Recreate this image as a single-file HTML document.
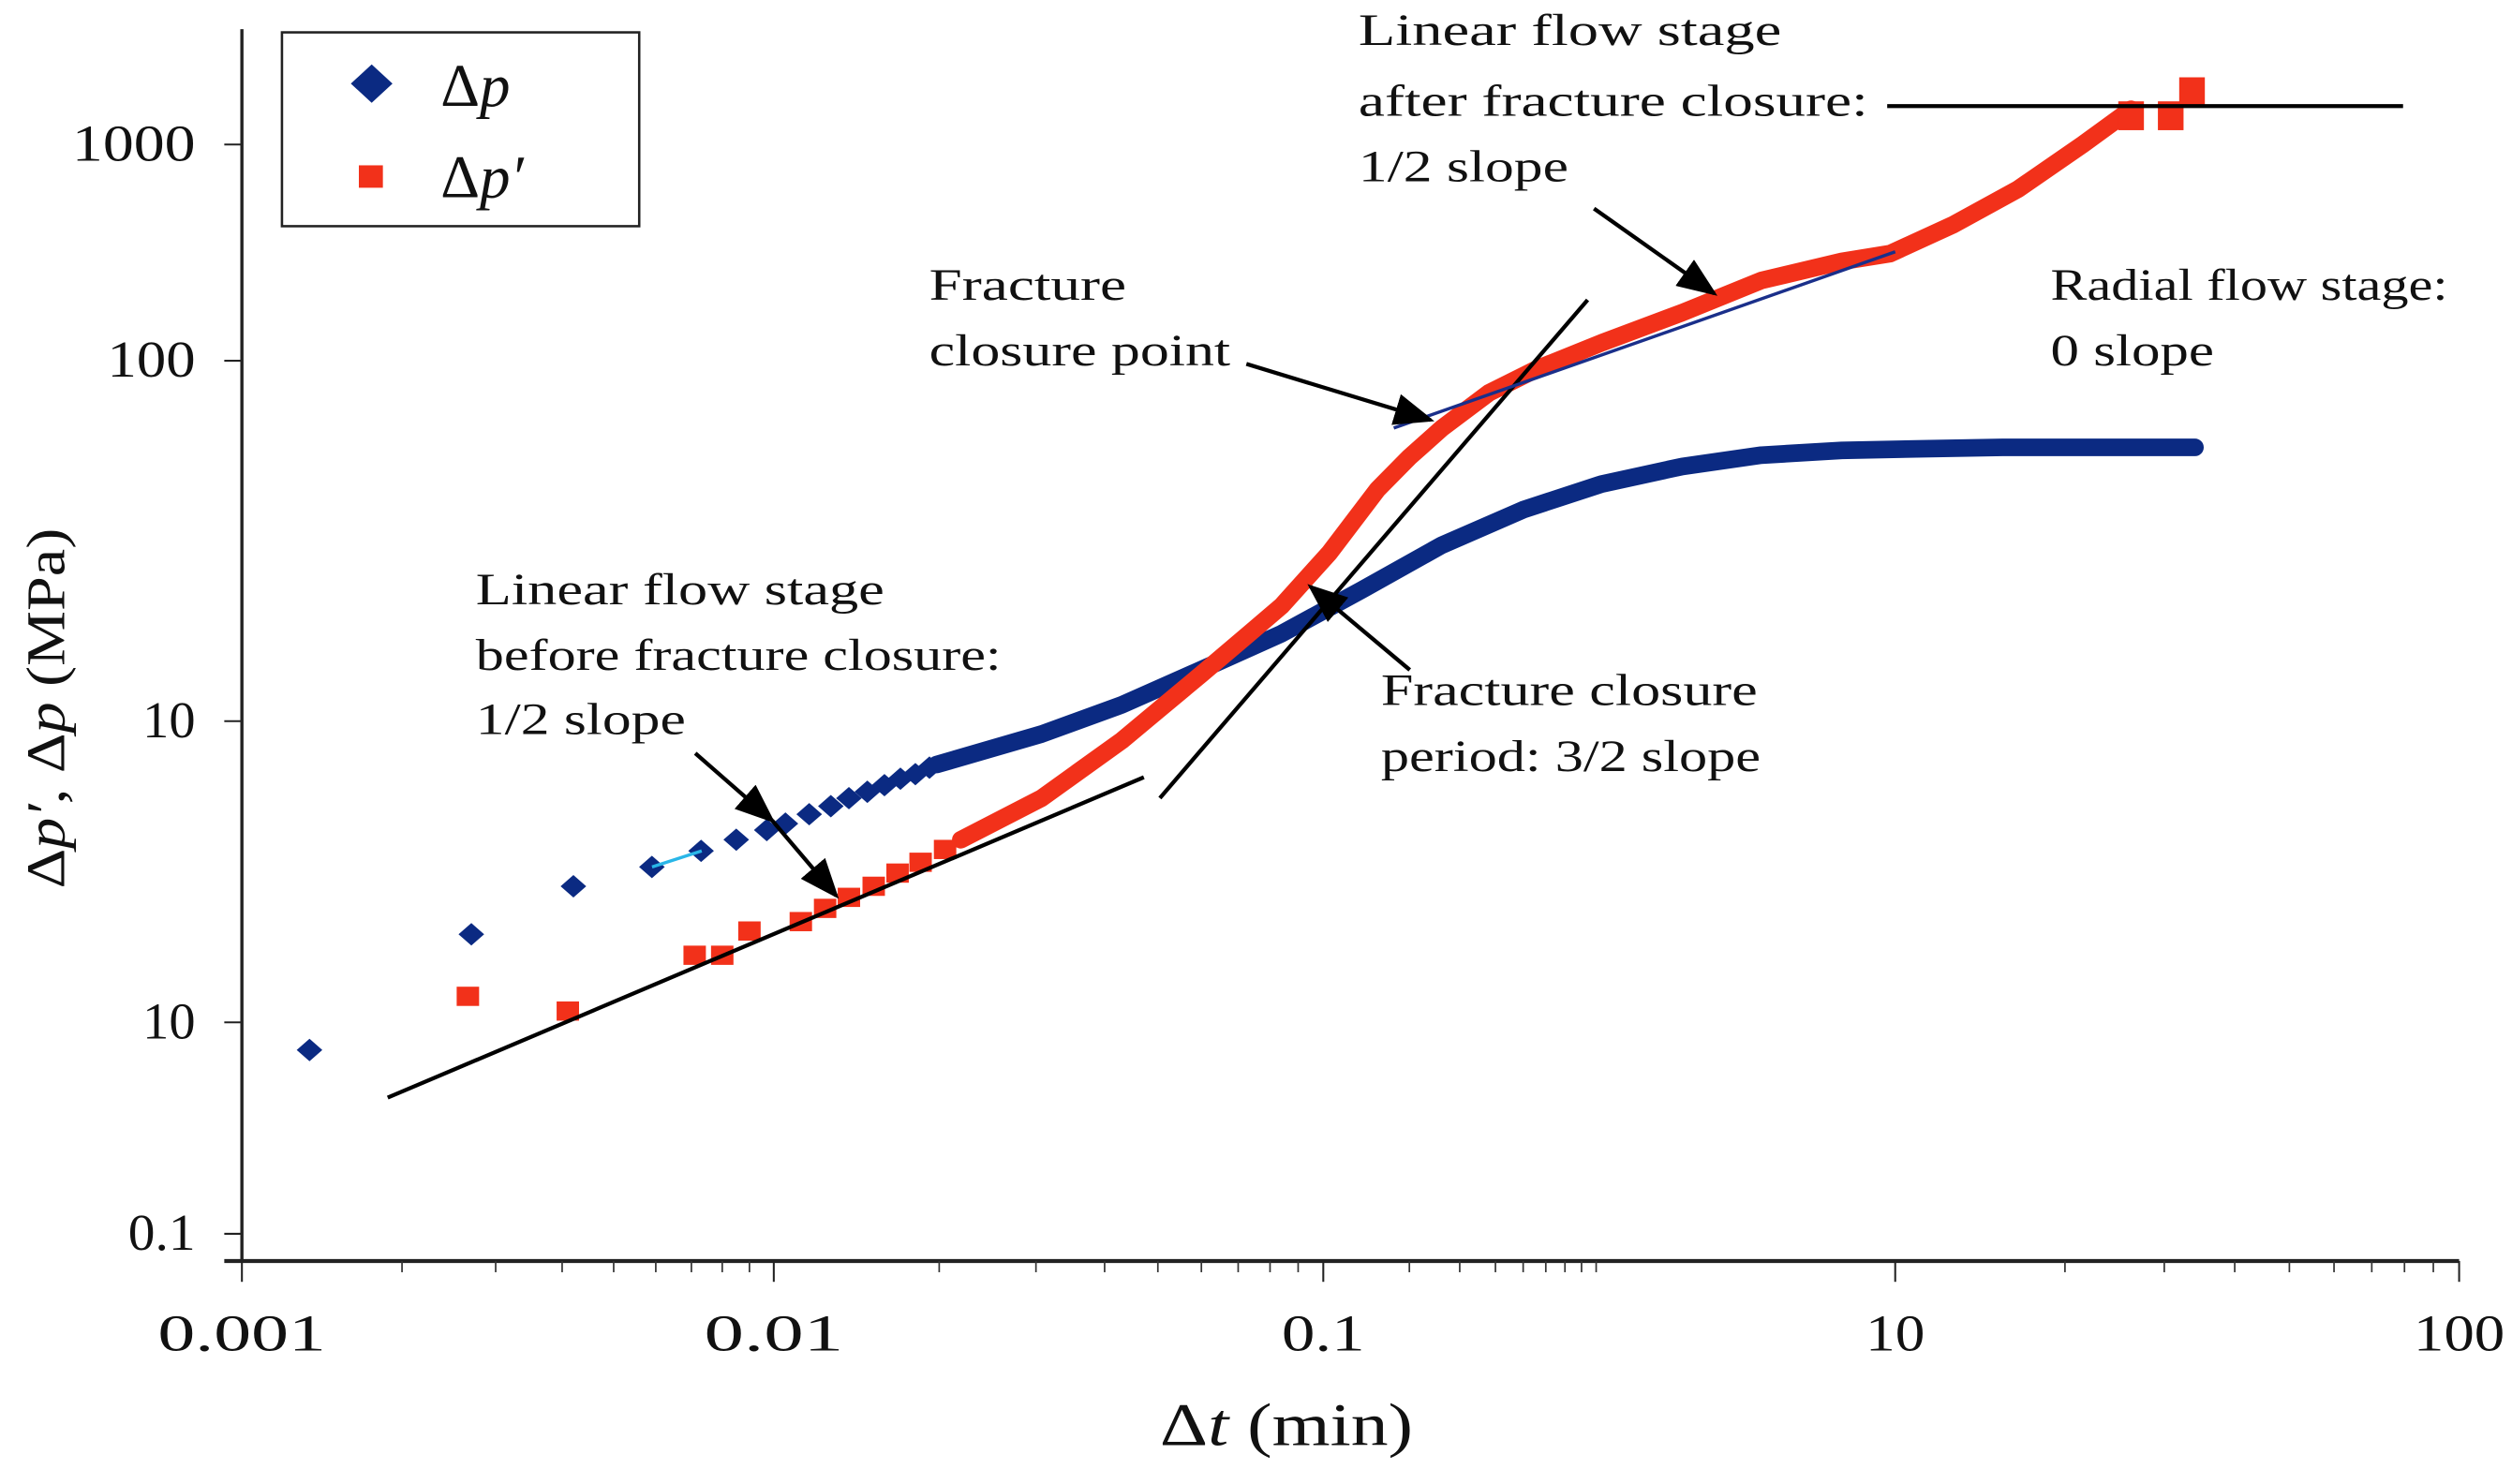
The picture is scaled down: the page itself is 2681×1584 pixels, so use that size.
<!DOCTYPE html>
<html><head><meta charset="utf-8"><style>
html,body{margin:0;padding:0;background:#fff;}
svg{display:block;}
text{font-family:"Liberation Serif",serif;fill:#111;}
</style></head><body>
<svg id="chart" width="2681" height="1584" viewBox="0 0 1568 926" xmlns="http://www.w3.org/2000/svg">
<defs><marker id="ah" markerWidth="10" markerHeight="8" refX="9" refY="4" orient="auto"><path d="M0,0 L10,4 L0,8 Z" fill="#000"/></marker></defs>
<g id="axes"></g>
<g id="marks"></g>
<g>
<line x1="242" y1="685" x2="714" y2="485" stroke="#000" stroke-width="2.5"/>
<line x1="724" y1="498" x2="991" y2="187" stroke="#000" stroke-width="2.5"/>
<line x1="870" y1="267" x2="1183" y2="157" stroke="#1a2f8a" stroke-width="2"/>
<line x1="1178" y1="66" x2="1500" y2="66" stroke="#000" stroke-width="2.5"/>
<line x1="407" y1="541" x2="438" y2="531" stroke="#29b6e8" stroke-width="2"/>
</g>
<g stroke="#000" stroke-width="2.5" fill="none">
<line x1="434" y1="470" x2="482" y2="512" marker-end="url(#ah)"/>
<line x1="482" y1="512" x2="522" y2="559" marker-end="url(#ah)"/>
<line x1="778" y1="227" x2="893" y2="262" marker-end="url(#ah)"/>
<line x1="880" y1="418" x2="818" y2="366" marker-end="url(#ah)"/>
<line x1="995" y1="130" x2="1070" y2="183" marker-end="url(#ah)"/>
</g>
<g font-size="28" lengthAdjust="spacingAndGlyphs">
<text x="848" y="28" textLength="264" lengthAdjust="spacingAndGlyphs">Linear flow stage</text>
<text x="848" y="72" textLength="318" lengthAdjust="spacingAndGlyphs">after fracture closure:</text>
<text x="848" y="113" textLength="131" lengthAdjust="spacingAndGlyphs">1/2 slope</text>
<text x="580" y="187" textLength="123" lengthAdjust="spacingAndGlyphs">Fracture</text>
<text x="580" y="228" textLength="188" lengthAdjust="spacingAndGlyphs">closure point</text>
<text x="1280" y="187" textLength="248" lengthAdjust="spacingAndGlyphs">Radial flow stage:</text>
<text x="1280" y="228" textLength="102" lengthAdjust="spacingAndGlyphs">0 slope</text>
<text x="297" y="377" textLength="255" lengthAdjust="spacingAndGlyphs">Linear flow stage</text>
<text x="297" y="418" textLength="328" lengthAdjust="spacingAndGlyphs">before fracture closure:</text>
<text x="297" y="458" textLength="131" lengthAdjust="spacingAndGlyphs">1/2 slope</text>
<text x="862" y="440" textLength="235" lengthAdjust="spacingAndGlyphs">Fracture closure</text>
<text x="862" y="481" textLength="237" lengthAdjust="spacingAndGlyphs">period: 3/2 slope</text>
</g>
<g>
<rect x="176" y="20" width="223" height="121" fill="#fff" stroke="#222" stroke-width="1.5"/>
<path d="M232,40 L245,52 L232,64 L219,52 Z" fill="#0b2a82"/>
<text x="275" y="66" font-size="38">Δ<tspan font-style="italic">p</tspan></text>
<rect x="224" y="103" width="15" height="14" fill="#f2311a"/>
<text x="275" y="123" font-size="38">Δ<tspan font-style="italic">p′</tspan></text>
</g>
<text transform="translate(40,442) rotate(-90)" text-anchor="middle" font-size="34" textLength="225" lengthAdjust="spacingAndGlyphs">Δ<tspan font-style="italic">p′</tspan>, Δ<tspan font-style="italic">p</tspan> (MPa)</text>
<text x="724" y="902" font-size="38" textLength="158" lengthAdjust="spacingAndGlyphs">Δ<tspan font-style="italic">t</tspan> (min)</text>
</svg>
<script>
const xTickVals=[0.001,0.01,0.1,10,100];
const xTickLabels=["0.001","0.01","0.1","10","100"];
const yTickVals=[0.1,1,10,100,1000];
const yTickLabels=["0.1","10","10","100","1000"];
const dpDiscreteT=[0.00134,0.0027,0.0042,0.0059,0.0073,0.0085,0.0097,0.0105,0.0116,0.0127,0.0137,0.0148,0.0159,0.017,0.0181,0.0192];
const dpDiscreteV=[0.74,1.96,2.83,3.28,3.71,4.04,4.35,4.57,4.91,5.22,5.55,5.83,6.13,6.44,6.67,7.01];
const dpCurveT=[0.0198,0.0307,0.043,0.060,0.084,0.136,0.26,0.50,0.94,1.8,3.4,6.5,11.2,15.5,21.5,34];
const dpCurveV=[7.18,9.06,11.1,13.9,17.5,23.1,30.8,38.6,45.5,50.9,54.7,56.4,57,57.5,57.5,57.5];
const derDiscreteT=[0.00266,0.0041,0.0071,0.008,0.009,0.0112,0.0124,0.0137,0.0152,0.0168,0.0185,0.0205];
const derDiscreteV=[1.22,1.09,1.67,1.67,2.01,2.16,2.39,2.6,2.83,3.13,3.4,3.75];
const derCurveT=[0.0219,0.0307,0.043,0.060,0.0733,0.084,0.105,0.155,0.20,0.26,0.38,0.56,0.94,1.8,3.4,6.5,9.6,12.7,16.5,21.5,26.2];
const derCurveV=[4.04,5.55,8.63,13.5,17.5,20.9,29.3,44,54,65,81.5,95,121,167,235,288,313,427,621,1000,1455];
const derBigT=[26.2,30.8,33.6];
const derBigV=[1358,1358,1754];
const xAnchorPx=[151,483,826,1183,1535];
const yAnchorPx=[770,638,450,225,90];
const xLabelWidths=[105,87,52,37,57];
const yLabelWidths=[42,33,33,55,77];
function pw(v,vals,px){const l=Math.log10(v);let i=0;while(i<vals.length-2&&l>Math.log10(vals[i+1]))i++;const a=Math.log10(vals[i]),b=Math.log10(vals[i+1]);return px[i]+(l-a)/(b-a)*(px[i+1]-px[i]);}
const X=v=>pw(v,xTickVals,xAnchorPx), Y=v=>pw(v,yTickVals,yAnchorPx);
const NS="http://www.w3.org/2000/svg";
function mk(tag,at,parent){const e=document.createElementNS(NS,tag);for(const k in at)e.setAttribute(k,at[k]);parent.appendChild(e);return e;}
const ax=document.getElementById('axes'), mg=document.getElementById('marks');
let e=mk('line',{x1:151,y1:18,x2:151,y2:787,stroke:'#222','stroke-width':2},ax);


e=mk('line',{x1:140,y1:787,x2:1535,y2:787,stroke:'#222','stroke-width':2.5},ax);


xTickVals.forEach((v,i)=>{const x=X(v);
 let t=mk('line',{x1:x,y1:787,x2:x,y2:800,stroke:'#222','stroke-width':1.2},ax);
 
 
 let l=mk('text',{x:x,y:843,'text-anchor':'middle','font-size':32,textLength:xLabelWidths[i],lengthAdjust:'spacingAndGlyphs'},ax);l.textContent=xTickLabels[i];
 
 
 if(i<xTickVals.length-1){for(let k=2;k<10;k++){const mx=X(v*k<xTickVals[i+1]?v*k:xTickVals[i+1]);const m=mk('line',{x1:mx,y1:787,x2:mx,y2:794,stroke:'#333','stroke-width':1},ax);
 
 }}
});
yTickVals.forEach((v,i)=>{const y=Y(v);
 let t=mk('line',{x1:140,y1:y,x2:151,y2:y,stroke:'#222','stroke-width':1.2},ax);
 
 
 let l=mk('text',{x:122-yLabelWidths[i],y:y+10,'font-size':32,textLength:yLabelWidths[i],lengthAdjust:'spacingAndGlyphs'},ax);l.textContent=yTickLabels[i];
 
 
});
let p=mk('polyline',{points:dpCurveT.map((t,i)=>X(t)+','+Y(dpCurveV[i])).join(' '),fill:'none',stroke:'#0b2a82','stroke-width':11,'stroke-linejoin':'round','stroke-linecap':'round'},mg);


dpDiscreteT.forEach((t,i)=>{const x=X(t),y=Y(dpDiscreteV[i]);const d=mk('path',{d:`M${x},${y-7}L${x+8},${y}L${x},${y+7}L${x-8},${y}Z`,fill:'#0b2a82'},mg);
 
 });
p=mk('polyline',{points:derCurveT.map((t,i)=>X(t)+','+Y(derCurveV[i])).join(' '),fill:'none',stroke:'#f2311a','stroke-width':11,'stroke-linejoin':'round','stroke-linecap':'round'},mg);


derDiscreteT.forEach((t,i)=>{const x=X(t),y=Y(derDiscreteV[i]);const r=mk('rect',{x:x-7,y:y-6,width:14,height:12,fill:'#f2311a'},mg);
 
 });
derBigT.forEach((t,i)=>{const x=X(t),y=Y(derBigV[i]);const r=mk('rect',{x:x-8,y:y-9,width:16,height:18,fill:'#f2311a'},mg);
 
 });
</script>
</body></html>
